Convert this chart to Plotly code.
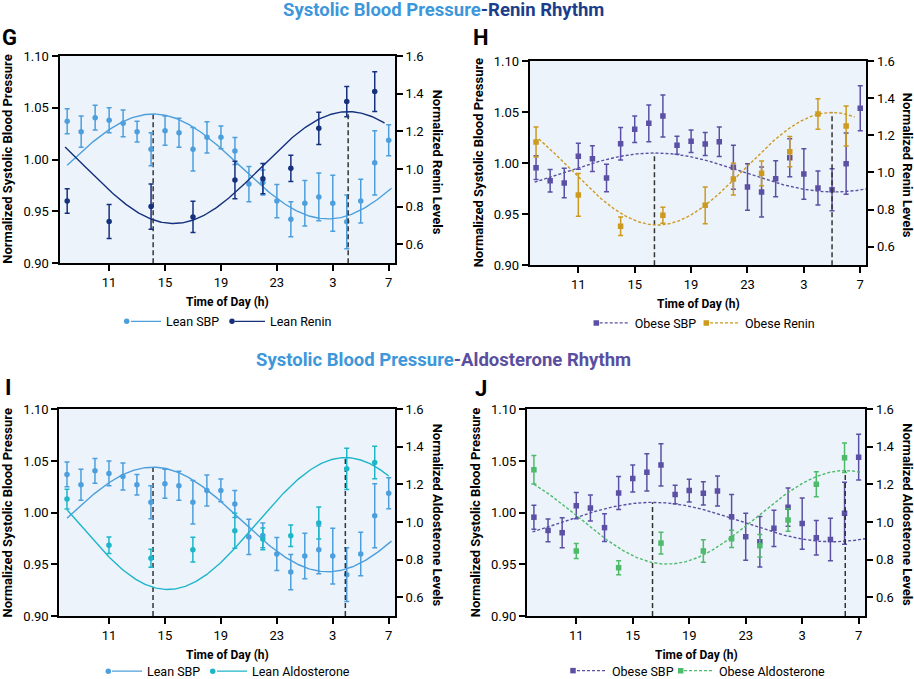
import numpy as np
import plotly.graph_objects as go

W, H = 914, 679
FONT = "Roboto"

# ---------------- data ----------------
SBP_HOURS = list(range(8, 32))
HORMONE_HOURS = [8, 11, 14, 17, 20, 22, 24, 26, 28, 30]
TICK_HOURS = [11, 15, 19, 23, 27, 31]
TICK_LABELS = ["11", "15", "19", "23", "3", "7"]

lean_sbp = [1.037, 1.027, 1.0405, 1.038, 1.035, 1.027, 1.010, 1.028, 1.026, 1.010, 1.0215, 1.0215,
            1.0084, 0.9765, 0.978, 0.960, 0.9425, 0.958, 0.964, 0.958, 0.940, 0.960, 0.997, 1.0187]
lean_sbp_err = [0.012, 0.015, 0.012, 0.012, 0.013, 0.010, 0.016, 0.014, 0.014, 0.021, 0.015, 0.011,
                0.013, 0.017, 0.012, 0.016, 0.017, 0.022, 0.023, 0.027, 0.026, 0.021, 0.031, 0.015]

obese_sbp = [0.9956, 0.9828, 0.9806, 1.0067, 1.0044, 0.9855, 1.019, 1.0331, 1.039, 1.0462, 1.0175, 1.0214,
             1.0187, 1.021, 0.996, 0.9767, 0.9718, 0.9848, 1.0053, 0.9894, 0.9757, 0.974, 0.9995, 1.0537]
obese_sbp_err = [0.0116, 0.011, 0.0145, 0.0127, 0.0126, 0.0135, 0.016, 0.013, 0.018, 0.0205, 0.0089, 0.011,
                 0.0113, 0.0145, 0.0216, 0.0227, 0.0245, 0.0176, 0.0185, 0.0247, 0.0166, 0.0205, 0.030, 0.0221]

lean_renin = [0.831, 0.722, 0.801, 0.746, 0.942, 0.949, 1.004, 1.216, 1.358, 1.411]
lean_renin_err = [0.065, 0.09, 0.12, 0.083, 0.10, 0.08, 0.07, 0.085, 0.08, 0.105]

obese_renin = [1.164, 0.879, 0.710, 0.769, 0.823, 0.964, 0.995, 1.112, 1.315, 1.250]
obese_renin_err = [0.081, 0.115, 0.05, 0.043, 0.099, 0.085, 0.067, 0.082, 0.082, 0.108]

lean_aldo = [1.122, 0.876, 0.807, 0.853, 0.954, 0.910, 0.927, 0.995, 1.283, 1.317]
lean_aldo_err = [0.053, 0.044, 0.048, 0.066, 0.093, 0.058, 0.057, 0.085, 0.11, 0.087]

obese_aldo = [1.278, 0.846, 0.757, 0.888, 0.846, 0.911, 0.874, 1.011, 1.201, 1.342]
obese_aldo_err = [0.076, 0.04, 0.037, 0.058, 0.06, 0.046, 0.06, 0.06, 0.067, 0.078]

# cosinor fits: (mesor, amplitude, acrophase h, period h, first h, last h)
LEAN_SBP_FIT = (0.9934, 0.0506, 14.15, 25.0, 8.0, 31.2)
OBESE_SBP_FIT = (0.9909, 0.0191, 16.4, 25.5, 7.9, 31.45)
LEAN_RENIN_FIT = (1.008, 0.297, 28.1, 25.0, 7.85, 30.7)
OBESE_RENIN_FIT = (1.02, 0.303, 29.0, 24.8, 8.2, 30.6)
LEAN_ALDO_FIT = (0.992, 0.351, 27.9, 25.4, 8.0, 31.0)
OBESE_ALDO_FIT = (1.025, 0.249, 30.05, 25.2, 8.0, 31.2)

# ---------------- styles ----------------
C_LEAN_SBP = "#4c9fdc"
C_LEAN_RENIN = "#15307c"
C_OBESE_SBP = "#5b50a3"
C_OBESE_RENIN = "#cc9a1f"
C_LEAN_ALDO = "#1db6c9"
C_OBESE_ALDO = "#4dbb6a"
BG = "#edf3fb"

LEFT_RANGE = [0.90, 1.10]
RIGHT_RANGE = [0.5, 1.6]


def px(x):
    return x / W


def py(y):
    return 1 - y / H


def cos_fit(fit):
    m, a, acro, per, t0, t1 = fit
    t = np.linspace(t0, t1, 300)
    return t, m + a * np.cos(2 * np.pi * (t - acro) / per)


fig = go.Figure()

# panel boxes in pixels: (x0, x1, ytop, ybottom), x range
panels = [
    dict(box=(59.5, 395, 56, 263.3), xr=[7.45, 31.45]),
    dict(box=(529.7, 866.3, 61, 265.3), xr=[7.55, 31.43]),
    dict(box=(59.3, 395, 409.3, 616), xr=[7.45, 31.45]),
    dict(box=(527, 865.3, 409.3, 616), xr=[7.51, 31.47]),
]

series = [
    (lean_sbp, lean_sbp_err, LEAN_SBP_FIT, "Lean SBP", C_LEAN_SBP, "circle", "solid",
     lean_renin, lean_renin_err, LEAN_RENIN_FIT, "Lean Renin", C_LEAN_RENIN, "Normalized Renin Levels"),
    (obese_sbp, obese_sbp_err, OBESE_SBP_FIT, "Obese SBP", C_OBESE_SBP, "square", "3px,2px",
     obese_renin, obese_renin_err, OBESE_RENIN_FIT, "Obese Renin", C_OBESE_RENIN, "Normalized Renin Levels"),
    (lean_sbp, lean_sbp_err, LEAN_SBP_FIT, "Lean SBP", C_LEAN_SBP, "circle", "solid",
     lean_aldo, lean_aldo_err, LEAN_ALDO_FIT, "Lean Aldosterone", C_LEAN_ALDO, "Normalized Aldosterone Levels"),
    (obese_sbp, obese_sbp_err, OBESE_SBP_FIT, "Obese SBP", C_OBESE_SBP, "square", "3px,2px",
     obese_aldo, obese_aldo_err, OBESE_ALDO_FIT, "Obese Aldosterone", C_OBESE_ALDO, "Normalized Aldosterone Levels"),
]

# legend key layout per panel: y centre, marker1 x, text1 x, marker2 x, text2 x (pixels)
legend_layout = [
    (321.7, 126.7, 166, 232, 270),
    (323.3, 596.3, 634.7, 706.3, 745),
    (671.5, 108.3, 147, 212.7, 252),
    (671.0, 573, 612, 680.7, 719),
]
LEG_PAD = 0  # offset between legend anchor and item origin

annotations = []
layout = {}
leg_count = [0]


def new_legend(x_item, y):
    leg_count[0] += 1
    k = leg_count[0]
    name = "legend" if k == 1 else f"legend{k}"
    layout[name] = dict(x=px(x_item - LEG_PAD), y=py(y), xanchor="left", yanchor="middle",
                        orientation="h", bgcolor="rgba(0,0,0,0)", borderwidth=0,
                        font=dict(family=FONT, size=12.5, color="black"),
                        itemwidth=30, itemclick=False, itemdoubleclick=False)
    return name


for i, (pan, ser) in enumerate(zip(panels, series)):
    (sbp, sbp_err, sfit, sname, scol, sym, dash,
     hor, hor_err, hfit, hname, hcol, rtitle) = ser
    x0, x1, yt, yb = pan["box"]
    n = i + 1
    xa = "x" if n == 1 else f"x{n}"
    yl = "y" if n == 1 else f"y{2 * n - 1}"
    yr = f"y{2 * n}"

    xkey = "xaxis" if n == 1 else f"xaxis{n}"
    ylkey = "yaxis" if n == 1 else f"yaxis{2 * n - 1}"
    yrkey = f"yaxis{2 * n}"

    layout[xkey] = dict(domain=[px(x0), px(x1)], range=pan["xr"], anchor=yl,
                        tickvals=TICK_HOURS, ticktext=TICK_LABELS,
                        showline=True, linecolor="black", linewidth=2, mirror=True,
                        ticks="outside", ticklen=6, tickwidth=2, tickcolor="black",
                        showgrid=False, zeroline=False,
                        tickfont=dict(family=FONT, size=13, color="black"))
    layout[ylkey] = dict(domain=[py(yb), py(yt)], range=LEFT_RANGE, anchor=xa,
                         dtick=0.05, tick0=0.90, tickformat=".2f",
                         showline=True, linecolor="black", linewidth=2,
                         ticks="outside", ticklen=6, tickwidth=2, tickcolor="black",
                         showgrid=False, zeroline=False,
                         tickfont=dict(family=FONT, size=13, color="black"))
    layout[yrkey] = dict(range=RIGHT_RANGE, overlaying=yl, side="right", anchor=xa,
                         tickvals=[0.6, 0.8, 1.0, 1.2, 1.4, 1.6], tickformat=".1f",
                         showline=True, linecolor="black", linewidth=2,
                         ticks="outside", ticklen=6, tickwidth=2, tickcolor="black",
                         showgrid=False, zeroline=False,
                         tickfont=dict(family=FONT, size=13, color="black"))

    ly, m1x, t1x, m2x, t2x = legend_layout[i]
    lg_m1 = new_legend(m1x - 20, ly)
    lg_l1 = new_legend(t1x - 40, ly)
    lg_m2 = new_legend(m2x - 20, ly)
    lg_l2 = new_legend(t2x - 40, ly)

    # acrophase marker lines (from axis floor up to fitted peak)
    m, a, acro = sfit[0], sfit[1], sfit[2]
    fig.add_trace(go.Scatter(x=[acro, acro], y=[LEFT_RANGE[0], m + a], xaxis=xa, yaxis=yl,
                             mode="lines", line=dict(color="#333333", width=1.5, dash="5px,3px"),
                             showlegend=False, hoverinfo="skip"))
    m, a, acro = hfit[0], hfit[1], hfit[2]
    fig.add_trace(go.Scatter(x=[acro, acro], y=[RIGHT_RANGE[0], m + a], xaxis=xa, yaxis=yr,
                             mode="lines", line=dict(color="#333333", width=1.5, dash="5px,3px"),
                             showlegend=False, hoverinfo="skip"))

    # fitted curves
    t, v = cos_fit(sfit)
    fig.add_trace(go.Scatter(x=t, y=v, xaxis=xa, yaxis=yl, mode="lines", name=sname,
                             line=dict(color=scol, width=1.4, dash=dash),
                             legend=lg_l1, hoverinfo="skip"))
    t, v = cos_fit(hfit)
    fig.add_trace(go.Scatter(x=t, y=v, xaxis=xa, yaxis=yr, mode="lines", name=hname,
                             line=dict(color=hcol, width=1.4, dash=dash),
                             legend=lg_l2, hoverinfo="skip"))

    # data points with error bars
    fig.add_trace(go.Scatter(x=SBP_HOURS, y=sbp, xaxis=xa, yaxis=yl, mode="markers", name=" ",
                             marker=dict(color=scol, size=5.5, symbol=sym),
                             error_y=dict(type="data", array=sbp_err, color=scol, thickness=1.5, width=2.5),
                             legend=lg_m1))
    fig.add_trace(go.Scatter(x=HORMONE_HOURS, y=hor, xaxis=xa, yaxis=yr, mode="markers", name=" ",
                             marker=dict(color=hcol, size=5.5, symbol=sym),
                             error_y=dict(type="data", array=hor_err, color=hcol, thickness=1.5, width=2.5),
                             legend=lg_m2))

    # axis titles
    cx = (x0 + x1) / 2
    cy = (yt + yb) / 2
    annotations.append(dict(x=px(cx), y=py(yb + 38.5), xref="paper", yref="paper", showarrow=False,
                            xanchor="center", yanchor="middle",
                            text="<b>Time of Day (h)</b>", font=dict(family=FONT, size=12, color="black")))
    annotations.append(dict(x=px(x0 - 51.5), y=py(cy), xref="paper", yref="paper", showarrow=False,
                            xanchor="center", yanchor="middle",
                            textangle=-90, text="<b>Normalized Systolic Blood Pressure</b>",
                            font=dict(family=FONT, size=13, color="black")))
    annotations.append(dict(x=px(x1 + 42), y=py(cy + 2), xref="paper", yref="paper", showarrow=False,
                            xanchor="center", yanchor="middle",
                            textangle=90, text=f"<b>{rtitle}</b>",
                            font=dict(family=FONT, size=13, color="black")))

# panel letters
for letter, (lx, ly) in zip("GHIJ", [(0, 37), (471, 37), (3, 387), (473, 388)]):
    annotations.append(dict(x=px(lx), y=py(ly), xref="paper", yref="paper", showarrow=False,
                            xanchor="left", yanchor="middle", text=f"<b>{letter}</b>",
                            font=dict(family=FONT, size=22, color="black")))

# section titles
annotations.append(dict(x=px(443), y=py(10), xref="paper", yref="paper", showarrow=False,
                        xanchor="center", yanchor="middle",
                        text="<b><span style='color:#3d97da'>Systolic Blood Pressure</span>"
                             "<span style='color:#1b3e8c'>-Renin Rhythm</span></b>",
                        font=dict(family=FONT, size=18.5)))
annotations.append(dict(x=px(443), y=py(360), xref="paper", yref="paper", showarrow=False,
                        xanchor="center", yanchor="middle",
                        text="<b><span style='color:#3d97da'>Systolic Blood Pressure</span>"
                             "<span style='color:#5a4ea0'>-Aldosterone Rhythm</span></b>",
                        font=dict(family=FONT, size=18.5)))

fig.update_layout(width=W, height=H, margin=dict(l=0, r=0, t=0, b=0, autoexpand=False),
                  paper_bgcolor="white", plot_bgcolor=BG,
                  annotations=annotations, **layout)

fig.write_html("out.html", config={"displayModeBar": False},
               post_script="document.body.style.margin='0px';document.body.style.overflow='hidden';")
